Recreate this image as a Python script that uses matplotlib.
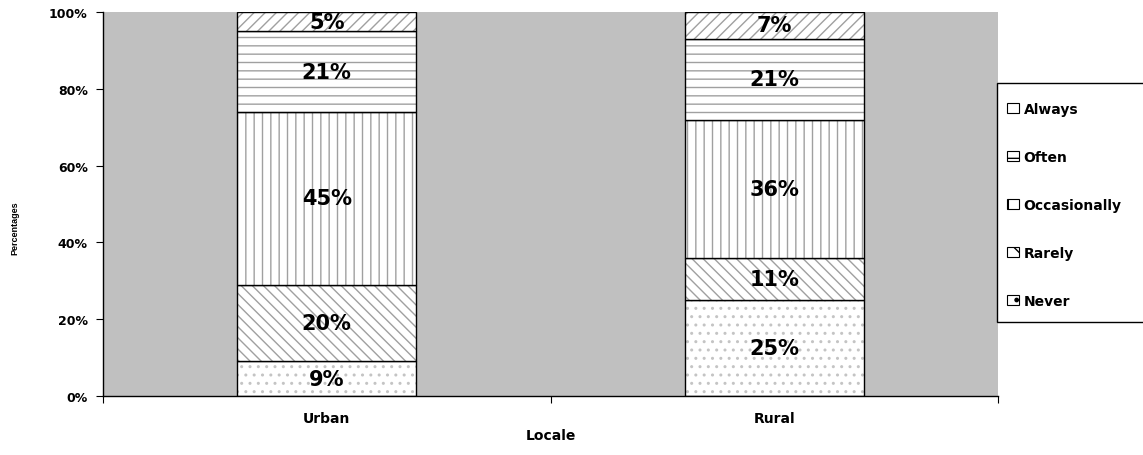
import matplotlib
matplotlib.use("Agg")
import matplotlib.pyplot as plt
import matplotlib.patches as mpatches
import numpy as np

# data
locales = ["Urban", "Rural"]
categories = ["Never", "Rarely", "Occasionally", "Often", "Always"]
never = [9, 25]
rarely = [20, 11]
occasionally = [45, 36]
often = [21, 21]
always = [5, 7]
series = [never, rarely, occasionally, often, always]

hatches = ["..", "\\\\\\", "||", "--", "///"]
hatch_colors = ["#c4c4c4", "#a0a0a0", "#a0a0a0", "#a0a0a0", "#a0a0a0"]
y_ticks = [0, 20, 40, 60, 80, 100]

plt.rcParams["hatch.linewidth"] = 1.0

fig = plt.figure(figsize=(11.43, 4.56), dpi=100)
ax = fig.add_axes([103 / 1143, 59 / 456, 895 / 1143, 384 / 456])
ax.set_facecolor("#C0C0C0")

x = np.arange(len(locales)) + 0.5
width = 0.40
bottom = np.zeros(len(locales))
handles = []
for name, vals, h, hc in zip(categories, series, hatches, hatch_colors):
    vals = np.array(vals, dtype=float)
    ax.bar(x, vals, width, bottom=bottom, color="white",
           edgecolor=hc, hatch=h, linewidth=0)
    ax.bar(x, vals, width, bottom=bottom, fill=False,
           edgecolor="black", linewidth=1.0)
    for xi, b, v in zip(x, bottom, vals):
        ax.text(xi, b + v / 2, f"{int(v)}%", ha="center", va="center",
                fontsize=15, fontweight="bold", color="black",
                family="DejaVu Sans")
    handles.append(mpatches.Patch(facecolor="white", edgecolor="black",
                                  hatch=h[0], linewidth=0.8, label=name))
    bottom += vals

ax.set_xlim(0, 2)
ax.set_ylim(0, 100)
ax.set_yticks(y_ticks)
ax.set_yticklabels([f"{t}%" for t in y_ticks], fontsize=9,
                   fontweight="bold")
ax.set_xticks([0, 1, 2])
ax.set_xticklabels([])
ax.set_xticks(x, minor=True)
ax.set_xticklabels(locales, minor=True, fontsize=10, fontweight="bold")
ax.tick_params(axis="x", which="minor", length=0, pad=11)
ax.tick_params(axis="both", which="major", direction="out", length=5,
               width=0.8, color="black")
ax.tick_params(axis="y", pad=6)
for s in ["top", "right"]:
    ax.spines[s].set_visible(False)
ax.spines["left"].set_linewidth(1.0)
ax.spines["bottom"].set_linewidth(1.0)

ax.set_xlabel("Locale", fontsize=10, fontweight="bold", labelpad=2)
fig.text(15 / 1143, 0.5, "Percentages", rotation=90, ha="center",
         va="center", fontsize=6.5, fontweight="bold",
         family="Liberation Sans")

# legend box
fig.patches.append(mpatches.Rectangle(
    (997 / 1143, (456 - 323) / 456), 150 / 1143, 239 / 456,
    transform=fig.transFigure, facecolor="white", edgecolor="black",
    linewidth=1.0, zorder=0))
leg = fig.legend(handles=handles[::-1], loc="upper left",
                 bbox_to_anchor=(1000 / 1143, (456 - 96) / 456),
                 frameon=False, prop={"weight": "bold", "size": 10},
                 handlelength=0.9, handleheight=0.7, handletextpad=0.3,
                 labelspacing=2.45, borderpad=0.0)

fig.savefig("out.png", dpi=100)
